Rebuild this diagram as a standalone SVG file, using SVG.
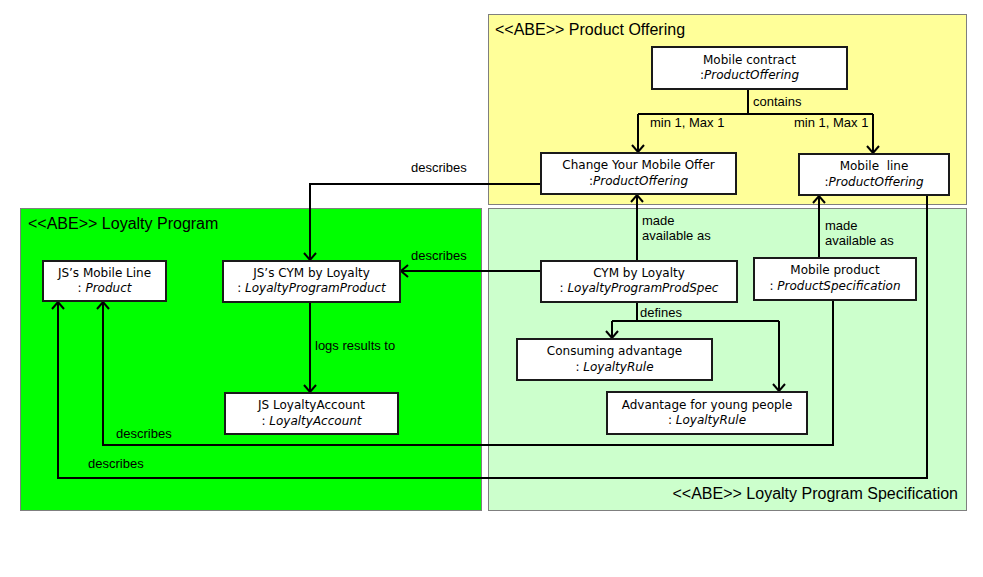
<svg xmlns="http://www.w3.org/2000/svg" width="983" height="577" viewBox="0 0 983 577">
<style>
.pkg{stroke:#7f7f7f;stroke-width:1}
.ptitle{font-family:"Liberation Sans",Arial,sans-serif;font-size:16px;fill:#000}
.node rect{fill:#fff;stroke:#1a1a1a;stroke-width:2}
.node text{font-family:"DejaVu Sans","Noto Sans",sans-serif;font-size:12px;fill:#000;text-anchor:middle}
.it{font-style:italic}
.edge{fill:none;stroke:#000;stroke-width:2}
.lbl{font-family:"Liberation Sans",Arial,sans-serif;font-size:13px;fill:#000}
</style>
<defs>
<marker id="arr" markerUnits="userSpaceOnUse" viewBox="-9 -8 11 16" markerWidth="11" markerHeight="16" refX="0" refY="0" orient="auto">
<path d="M-7,-6 L0,0 L-7,6" fill="none" stroke="#000" stroke-width="2"/>
</marker>
</defs>
<rect width="983" height="577" fill="#fff"/>
<g id="pkg-product-offering">
<rect class="pkg" x="488.5" y="14.5" width="478" height="190" fill="#ffff99"/>
<text class="ptitle" x="495" y="35">&lt;&lt;ABE&gt;&gt; Product Offering</text>
</g>
<g id="pkg-loyalty-program">
<rect class="pkg" x="20.5" y="208.5" width="461" height="302" fill="#00ff00"/>
<text class="ptitle" x="28" y="229">&lt;&lt;ABE&gt;&gt; Loyalty Program</text>
</g>
<g id="pkg-loyalty-spec">
<rect class="pkg" x="488.5" y="208.5" width="478" height="302" fill="#ccffcc"/>
<text class="ptitle" x="958" y="499" text-anchor="end">&lt;&lt;ABE&gt;&gt; Loyalty Program Specification</text>
</g>
<g id="connectors">
<polyline class="edge" points="748,89 748,114"/>
<polyline class="edge" points="638,114 873,114"/>
<polyline class="edge" points="638,114 638,152" marker-end="url(#arr)"/>
<polyline class="edge" points="873,114 873,153" marker-end="url(#arr)"/>
<text class="lbl" x="753" y="106">contains</text>
<text class="lbl" x="650" y="127">min 1, Max 1</text>
<text class="lbl" x="794" y="127">min 1, Max 1</text>
<polyline class="edge" points="541,184 310,184 310,260" marker-end="url(#arr)"/>
<text class="lbl" x="411" y="172">describes</text>
<polyline class="edge" points="541,271 401,271" marker-end="url(#arr)"/>
<text class="lbl" x="411" y="260">describes</text>
<polyline class="edge" points="637,261 637,195" marker-end="url(#arr)"/>
<text class="lbl" x="642" y="225">made</text>
<text class="lbl" x="642" y="240">available as</text>
<polyline class="edge" points="819,258 819,196" marker-end="url(#arr)"/>
<text class="lbl" x="825" y="230">made</text>
<text class="lbl" x="825" y="245">available as</text>
<polyline class="edge" points="637,302 637,321"/>
<polyline class="edge" points="612,321 779,321"/>
<polyline class="edge" points="612,321 612,338" marker-end="url(#arr)"/>
<polyline class="edge" points="779,321 779,391" marker-end="url(#arr)"/>
<text class="lbl" x="640" y="317">defines</text>
<polyline class="edge" points="310,302 310,392" marker-end="url(#arr)"/>
<text class="lbl" x="315" y="350">logs results to</text>
<polyline class="edge" points="833,300 833,445 103,445 103,302" marker-end="url(#arr)"/>
<text class="lbl" x="116" y="438">describes</text>
<polyline class="edge" points="927,195 927,478 58,478 58,302" marker-end="url(#arr)"/>
<text class="lbl" x="88" y="468">describes</text>
</g>
<g id="n-mobile-contract" class="node">
<rect x="652" y="47" width="195" height="42"/>
<text x="749.5" y="64">Mobile contract</text>
<text x="749.5" y="79">:<tspan class="it">ProductOffering</tspan></text>
</g>
<g id="n-change-your-mobile-offer" class="node">
<rect x="541" y="153" width="195" height="41"/>
<text x="638.5" y="169">Change Your Mobile Offer</text>
<text x="638.5" y="185">:<tspan class="it">ProductOffering</tspan></text>
</g>
<g id="n-mobile-line" class="node">
<rect x="799" y="154" width="150" height="41"/>
<text x="874" y="170" xml:space="preserve">Mobile  line</text>
<text x="874" y="186">:<tspan class="it">ProductOffering</tspan></text>
</g>
<g id="n-js-mobile-line" class="node">
<rect x="43" y="261" width="123" height="40"/>
<text x="104.5" y="277">JS’s Mobile Line</text>
<text x="104.5" y="292">: <tspan class="it">Product</tspan></text>
</g>
<g id="n-js-cym" class="node">
<rect x="223" y="261" width="177" height="41"/>
<text x="311.5" y="277">JS’s CYM by Loyalty</text>
<text x="311.5" y="292">: <tspan class="it">LoyaltyProgramProduct</tspan></text>
</g>
<g id="n-js-loyalty-account" class="node">
<rect x="225" y="393" width="173" height="41"/>
<text x="311.5" y="409">JS LoyaltyAccount</text>
<text x="311.5" y="425">: <tspan class="it">LoyaltyAccount</tspan></text>
</g>
<g id="n-cym-by-loyalty" class="node">
<rect x="541" y="261" width="196" height="41"/>
<text x="639" y="277">CYM by Loyalty</text>
<text x="639" y="292">: <tspan class="it">LoyaltyProgramProdSpec</tspan></text>
</g>
<g id="n-mobile-product" class="node">
<rect x="754" y="258" width="162" height="42"/>
<text x="835" y="274">Mobile product</text>
<text x="835" y="290">: <tspan class="it">ProductSpecification</tspan></text>
</g>
<g id="n-consuming-advantage" class="node">
<rect x="517" y="339" width="195" height="41"/>
<text x="614.5" y="355">Consuming advantage</text>
<text x="614.5" y="371">: <tspan class="it">LoyaltyRule</tspan></text>
</g>
<g id="n-advantage-young" class="node">
<rect x="607" y="392" width="200" height="42"/>
<text x="707" y="409">Advantage for young people</text>
<text x="707" y="424">: <tspan class="it">LoyaltyRule</tspan></text>
</g>
</svg>
